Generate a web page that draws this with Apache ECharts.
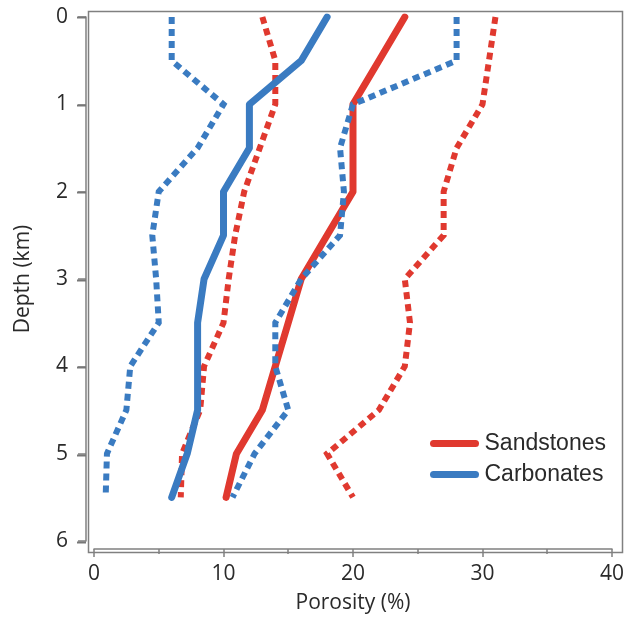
<!DOCTYPE html>
<html>
<head>
<meta charset="utf-8">
<script src="https://cdn.jsdelivr.net/npm/echarts@6/dist/echarts.min.js"></script>
<style>
html,body{margin:0;padding:0;background:#fff;}
#c{width:627px;height:619px;}
</style>
</head>
<body>
<div id="c"></div>
<script>
// Depth (km) of each reading
const depth     = [0, 0.5, 1, 1.5, 2, 2.5, 3, 3.5, 4, 4.5, 5, 5.5];
// Porosity (%) — Sandstones
const sandMean  = [24, 22, 20, 20, 20, 18, 16, 15, 14, 13, 11, 10.2];
const sandMin   = [13, 14, 14, 12.8, 11.6, 10.9, 10.4, 10, 8.5, 8.2, 6.8, 6.7];
const sandMax   = [31, 30.5, 30, 28, 27, 27, 24, 24.4, 24, 22, 18, 20];
// Porosity (%) — Carbonates
const carbMean  = [18, 16, 12, 12, 10, 10, 8.5, 8, 8, 8, 7.2, 6];
const carbMin   = [6, 6, 10, 8, 5, 4.5, 4.8, 5, 2.8, 2.5, 1, 0.9];
const carbMax   = [28, 28, 20, 19, 19.3, 19, 16, 14, 14, 15, 12.4, 10.7];
// Axis ticks
const xTicks = [0, 10, 20, 30, 40];
const yTicks = [0, 1, 2, 3, 4, 5, 6];

const RED = '#E0392F';
const BLUE = '#3A7BC1';
const GRAY = '#808080';
const TXT = '#2a2a2a';
const AXFONT = 'Open Sans';

function pairs(xs){ return xs.map((x,i)=>[x, depth[i]]); }

const chart = echarts.init(document.getElementById('c'), null, {renderer:'canvas'});
const dotted = (c)=>({color:c, width:6, type:[7,5], cap:'butt', join:'miter'});
const solid = (c)=>({color:c, width:7, type:'solid', cap:'round', join:'round'});

const pill = 'path://M3.5,0 L45.5,0 A3.5,3.5 0 0 1 45.5,7 L3.5,7 A3.5,3.5 0 0 1 3.5,0 Z';

const FRAME = {x:86, y:9, w:534, h:541};
const GRID = {left:94, top:17, width:519, height:525};

// left-axis tick marks, placed along the grid's vertical extent
const yMax = yTicks[yTicks.length-1];
const tickGfx = yTicks.map(v=>{
  const py = Math.round(GRID.top + (v - yTicks[0]) / (yMax - yTicks[0]) * GRID.height) + 0.5;
  return {type:'line', z:100, silent:true,
    shape:{x1:FRAME.x-9, y1:py, x2:FRAME.x, y2:py},
    style:{stroke:'#777777', lineWidth:2}};
});

chart.setOption({
  animation:false,
  backgroundColor:'#fff',
  grid:{left:GRID.left, top:GRID.top, width:GRID.width, height:GRID.height, containLabel:false},
  xAxis:{
    type:'value', position:'bottom', min:xTicks[0], max:xTicks[xTicks.length-1], interval:10,
    offset:8,
    axisLine:{show:true, onZero:false, lineStyle:{color:GRAY, width:1.5}},
    axisTick:{show:true, length:8, lineStyle:{color:GRAY, width:1.5}},
    minorTick:{show:true, splitNumber:2, length:5, lineStyle:{color:GRAY, width:1.5}},
    splitLine:{show:false},
    axisLabel:{color:TXT, fontSize:21, fontFamily:AXFONT, margin:15},
    name:'Porosity (%)', nameLocation:'middle', nameGap:44,
    nameTextStyle:{color:TXT, fontSize:21, fontFamily:AXFONT}
  },
  yAxis:{
    type:'value', position:'left', inverse:true, min:yTicks[0], max:yMax, interval:1,
    offset:8,
    axisLine:{show:true, onZero:false, lineStyle:{color:GRAY, width:1.5}},
    axisTick:{show:true, inside:false, length:8, lineStyle:{color:GRAY, width:1.5}},
    splitLine:{show:false},
    axisLabel:{color:TXT, fontSize:21, fontFamily:AXFONT, margin:18},
    name:'Depth (km)', nameLocation:'middle', nameGap:52,
    nameTextStyle:{color:TXT, fontSize:21, fontFamily:AXFONT}
  },
  legend:{
    orient:'vertical', left:425, top:427,
    data:['Sandstones','Carbonates'],
    itemWidth:50, itemHeight:7, itemGap:8,
    icon:pill,
    textStyle:{color:TXT, fontSize:23, fontFamily:'Liberation Sans'}
  },
  graphic:[{
    type:'rect', left:FRAME.x, top:FRAME.y, z:100, silent:true,
    shape:{width:FRAME.w, height:FRAME.h},
    style:{fill:'none', stroke:GRAY, lineWidth:1.5}
  }].concat(tickGfx),
  series:[
    {name:'Sandstones min', type:'line', data:pairs(sandMin), showSymbol:false, lineStyle:dotted(RED), itemStyle:{color:RED}, z:2},
    {name:'Sandstones max', type:'line', data:pairs(sandMax), showSymbol:false, lineStyle:dotted(RED), itemStyle:{color:RED}, z:2},
    {name:'Sandstones', type:'line', data:pairs(sandMean), showSymbol:false, lineStyle:solid(RED), itemStyle:{color:RED}, z:3},
    {name:'Carbonates min', type:'line', data:pairs(carbMin), showSymbol:false, lineStyle:dotted(BLUE), itemStyle:{color:BLUE}, z:4},
    {name:'Carbonates max', type:'line', data:pairs(carbMax), showSymbol:false, lineStyle:dotted(BLUE), itemStyle:{color:BLUE}, z:4},
    {name:'Carbonates', type:'line', data:pairs(carbMean), showSymbol:false, lineStyle:solid(BLUE), itemStyle:{color:BLUE}, z:5}
  ]
});
</script>
</body>
</html>
